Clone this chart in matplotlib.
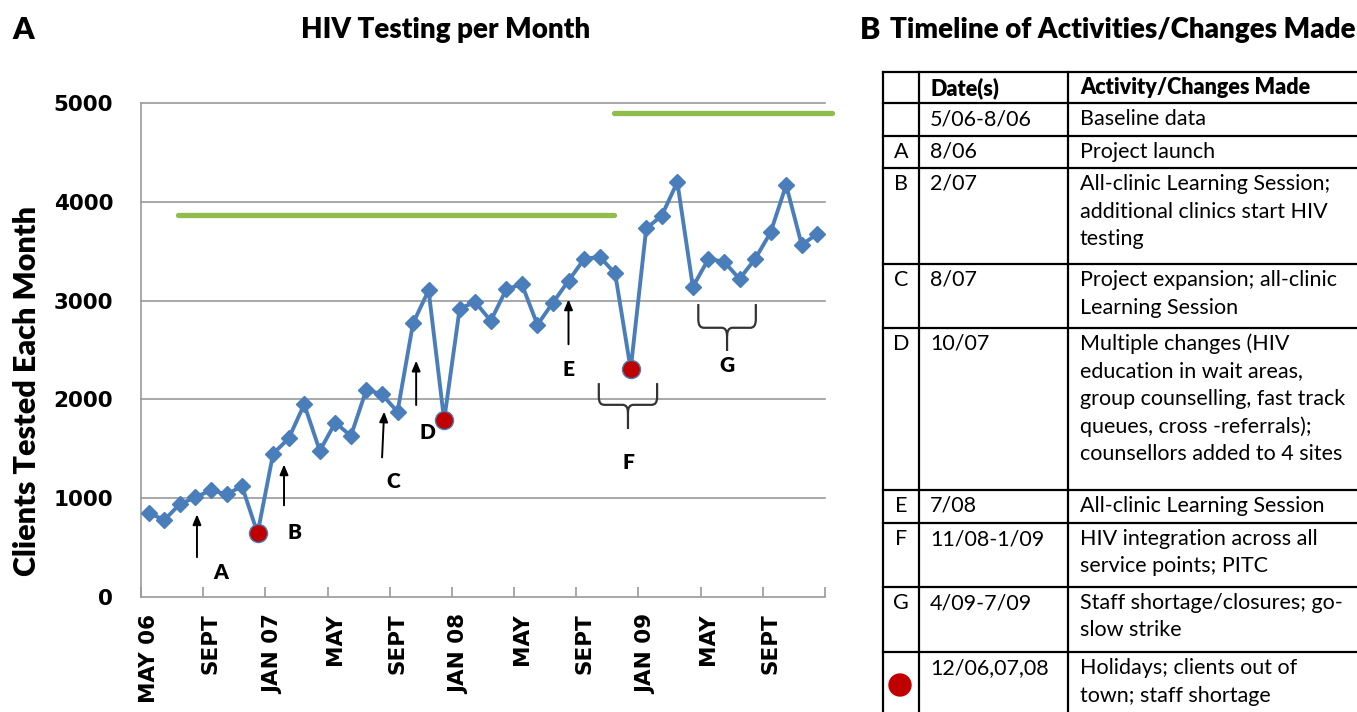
import matplotlib
matplotlib.use("Agg")
import matplotlib.pyplot as plt
from matplotlib.path import Path
from matplotlib.patches import PathPatch, Circle
import numpy as np

# monthly HIV tests, May 2006 - Dec 2009
months = ["MAY 06", "SEPT", "JAN 07", "MAY", "SEPT", "JAN 08",
          "MAY", "SEPT", "JAN 09", "MAY", "SEPT"]
clients = [850, 780, 940, 1010, 1080, 1040, 1120, 645,
           1450, 1605, 1950, 1480, 1765, 1630, 2100, 2050, 1875, 2770, 3105, 1790,
           2920, 2985, 2795, 3115, 3165, 2755, 2980, 3200, 3420, 3445, 3275, 2305,
           3730, 3860, 4200, 3140, 3420, 3395, 3220, 3420, 3690, 4170, 3565, 3675]
holiday_idx = [7, 19, 31]
targets = [3870, 4900]
target_spans = [(1.9, 29.9), (29.9, 43.95)]
y_ticks = [0, 1000, 2000, 3000, 4000, 5000]

# table B
tab_letters = ["", "", "A", "B", "C", "D", "E", "F", "G", "dot"]
tab_dates = ["Date(s)", "5/06-8/06", "8/06", "2/07", "8/07", "10/07", "7/08",
             "11/08-1/09", "4/09-7/09", "12/06,07,08"]
tab_changes = [
    ["Activity/Changes Made"],
    ["Baseline data"],
    ["Project launch"],
    ["All-clinic Learning Session;", "additional clinics start HIV", "testing"],
    ["Project expansion; all-clinic", "Learning Session"],
    ["Multiple changes (HIV", "education in wait areas,", "group counselling, fast track",
     "queues, cross -referrals);", "counsellors added to 4 sites"],
    ["All-clinic Learning Session"],
    ["HIV integration across all", "service points; PITC"],
    ["Staff shortage/closures; go-", "slow strike"],
    ["Holidays; clients out of", "town; staff shortage"],
]
row_tops = [72, 103, 136, 168, 264, 328, 490, 523, 587, 652, 712]

BLUE = "#4a7ebb"
RED = "#c00000"
GREEN = "#8fbc4a"
W, H = 1357, 712

fig = plt.figure(figsize=(W / 100, H / 100), dpi=100)

# ---- panel A ----
ax = fig.add_axes([141 / W, (H - 597) / H, 684 / W, 494 / H])
x = np.arange(len(clients))
ax.plot(x, clients, color=BLUE, lw=2.8, marker="D", ms=8, mfc=BLUE, mec=BLUE, zorder=3)
ax.plot(holiday_idx, [clients[i] for i in holiday_idx], "o", color=RED, ms=13,
        mec=BLUE, mew=1, zorder=4)
for t, (x0, x1) in zip(targets, target_spans):
    ax.plot([x0, x1], [t, t], color=GREEN, lw=3.8, solid_capstyle="round",
            clip_on=False, zorder=2)

ax.set_xlim(-0.5, len(clients) - 0.5)
ax.set_ylim(0, 5000)
for v in y_ticks[1:]:
    ax.axhline(v, color="#9a9a9a", lw=1.2, zorder=1, clip_on=False)
for s in ["top", "right"]:
    ax.spines[s].set_visible(False)
for s in ["left", "bottom"]:
    ax.spines[s].set_color("#9a9a9a")
    ax.spines[s].set_linewidth(1.2)

ax.set_yticks(y_ticks)
ax.set_yticklabels([str(v) for v in y_ticks], fontsize=15.5, fontweight="bold",
                   family="DejaVu Sans")
ax.tick_params(axis="y", length=0, pad=20)
ax.set_xticks(np.arange(0, len(clients), 4))
ax.set_xticklabels(months, rotation=90, fontsize=15.5, fontweight="bold", family="DejaVu Sans")
ax.set_xticks(np.arange(-0.5, len(clients), 4), minor=True)
ax.tick_params(axis="x", which="major", length=0, pad=12)
ax.tick_params(axis="x", which="minor", direction="in", length=7, color="#9a9a9a", width=1.2)

# event arrows
arrows = {"A": ((3.1, 375), (3.1, 865), (4.6, 245)),
          "B": ((8.7, 900), (8.7, 1370), (9.4, 650)),
          "C": ((15.0, 1385), (15.15, 1905), (15.7, 1165)),
          "D": ((17.2, 1915), (17.2, 2420), (17.95, 1670)),
          "E": ((27.0, 2530), (27.0, 3040), (27.0, 2300))}
for lab, (tail, head, txt) in arrows.items():
    ax.annotate("", xy=head, xytext=tail,
                arrowprops=dict(arrowstyle="-|>,head_length=0.6,head_width=0.25",
                                color="black", lw=1.4))
    ax.text(*txt, lab, ha="center", va="center", fontsize=15, fontweight="heavy",
            family="Lato")


def brace(x0, x1, ytop, ybot, ystem, lab, ylab):
    xc = (x0 + x1) / 2
    r = (ytop - ybot) * 0.35
    dx = 0.35
    verts = [(x0, ytop), (x0, ybot + r), (x0, ybot), (x0 + dx, ybot),
             (xc - dx, ybot), (xc, ybot), (xc, ybot - r), (xc, ystem)]
    codes = [Path.MOVETO, Path.LINETO, Path.CURVE3, Path.CURVE3,
             Path.LINETO, Path.CURVE3, Path.CURVE3, Path.LINETO]
    ax.add_patch(PathPatch(Path(verts, codes), fc="none", ec="#333333", lw=1.6))
    verts = [(x1, ytop), (x1, ybot + r), (x1, ybot), (x1 - dx, ybot),
             (xc + dx, ybot), (xc, ybot), (xc, ybot - r)]
    codes = [Path.MOVETO, Path.LINETO, Path.CURVE3, Path.CURVE3,
             Path.LINETO, Path.CURVE3, Path.CURVE3]
    ax.add_patch(PathPatch(Path(verts, codes), fc="none", ec="#333333", lw=1.6))
    ax.text(xc, ylab, lab, ha="center", va="center", fontsize=15, fontweight="heavy",
            family="Lato")


brace(28.95, 32.7, 2165, 1945, 1700, "F", 1365)
brace(35.35, 39.05, 2965, 2725, 2490, "G", 2340)

# ---- overlay for titles, y label and table (pixel coords) ----
ov = fig.add_axes([0, 0, 1, 1], facecolor="none")
ov.set_xlim(0, W)
ov.set_ylim(H, 0)
ov.axis("off")

ov.text(27, 391, "Clients Tested Each Month", rotation=90, fontsize=22, fontweight="heavy",
        family="Lato", ha="center", va="center")
ov.text(12, 30, "A", fontsize=22, fontweight="heavy", family="Lato", va="center")
ov.text(446, 30, "HIV Testing per Month", fontsize=20, fontweight="heavy", family="Lato",
        ha="center", va="center")
ov.text(860, 30, "B", fontsize=22, fontweight="heavy", family="Lato", va="center")
ov.text(890, 30, "Timeline of Activities/Changes Made", fontsize=20, fontweight="heavy",
        family="Lato", va="center")

col_x = [883, 919, 1068]
for y in row_tops[:-1]:
    ov.plot([col_x[0], W], [y, y], color="black", lw=1.6, clip_on=False)
for cx in col_x:
    ov.plot([cx, cx], [row_tops[0], H], color="black", lw=1.6, clip_on=False)

for i, (let, date, lines) in enumerate(zip(tab_letters, tab_dates, tab_changes)):
    top = row_tops[i]
    weight = "heavy" if i == 0 else "normal"
    if let == "dot":
        ov.add_patch(Circle((900, top + 33), 11, color=RED))
    elif let:
        ov.text(901, top + 16, let, ha="center", va="center", fontsize=15.5, family="Lato")
    ov.text(930, top + 16, date, va="center", fontsize=15.5, family="Lato", fontweight=weight)
    for j, line in enumerate(lines):
        ov.text(1080, top + 16 + 27.5 * j, line, va="center", fontsize=15.5, family="Lato",
                fontweight=weight)

fig.savefig("out.png", dpi=100)
